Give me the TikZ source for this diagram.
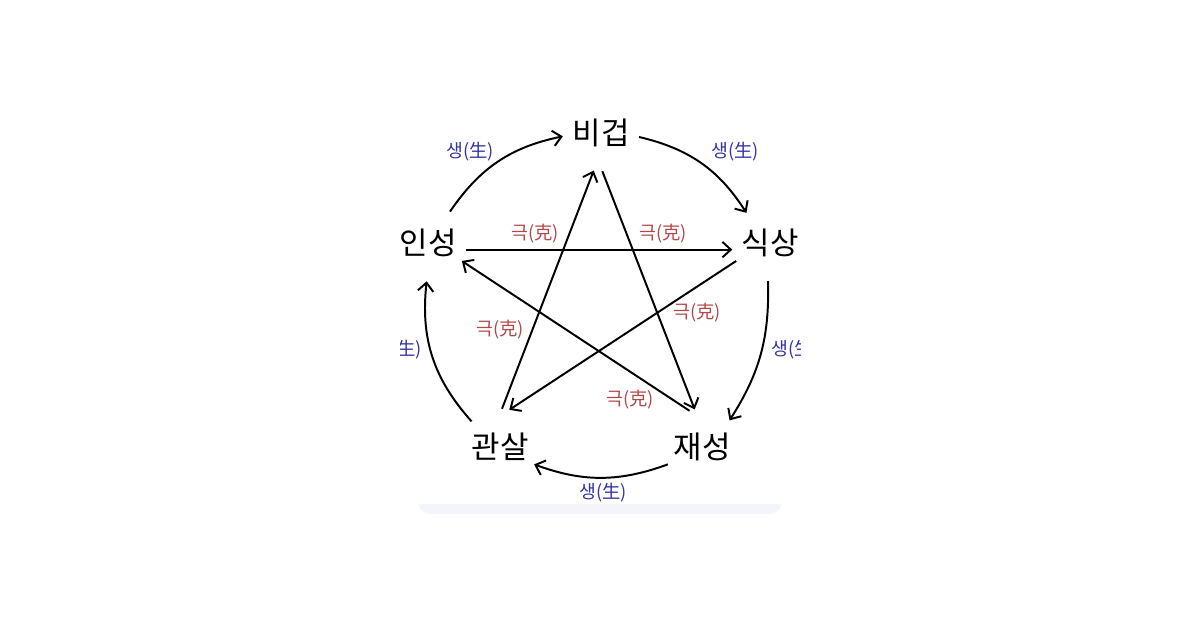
\documentclass[tikz,border=0pt]{standalone}
\usepackage{fontspec}
\setmainfont{Noto Sans CJK KR}
\usetikzlibrary{arrows.meta}
\definecolor{shengblue}{RGB}{52,52,168}
\definecolor{kered}{RGB}{180,72,72}
\definecolor{bandgray}{RGB}{243,245,250}

\begin{document}
\begin{tikzpicture}[x=0.025cm,y=0.025cm,
    elem/.style={circle, inner sep=0pt, minimum size=1.9cm, font=\fontsize{22pt}{26pt}\selectfont},
    shenglbl/.style={text=shengblue, font=\fontsize{13pt}{15pt}\selectfont},
    kelbl/.style={text=kered, font=\fontsize{13pt}{15pt}\selectfont},
    sheng/.style={line width=1.4pt, -{Straight Barb[length=6pt,width=11pt]}},
    ke/.style={line width=1.4pt, -{Straight Barb[length=6pt,width=11pt]}}]
                \useasboundingbox (0,0) rectangle (1200,630);

                \begin{scope}
                \clip (400,0) rectangle (800,630);

                % card edge
                \fill[bandgray, rounded corners=9pt] (418,116) rectangle (782,140);
                \fill[white] (400,126) rectangle (800,630);

                \coordinate (B) at (601,497);
                \coordinate (S) at (770,387);
                \coordinate (I) at (428,387);
                \coordinate (G) at (500,183);
                \coordinate (J) at (702,183);

                \node [elem] (bigeop) at (B) {비겁};
                \node [elem] (siksang) at (S) {식상};
                \node [elem] (inseong) at (I) {인성};
                \node [elem] (gwansal) at (G) {관살};
                \node [elem] (jaeseong) at (J) {재성};

                % ke
                \draw[ke] (inseong.-10) -- (siksang.190);
                \draw[ke] (bigeop.-88) -- (jaeseong.101);
                \draw[ke] (jaeseong.109) -- (inseong.-28);
                \draw[ke] (gwansal.87) -- (bigeop.-101);
                \draw[ke] (siksang.208) -- (gwansal.76);

                % sheng
                \draw[sheng] (inseong.55) to[bend left=22] (bigeop.185);
                \draw[sheng] (bigeop.-6) to[bend left=22] (siksang.128);
                \draw[sheng] (siksang.-93) to[bend left=17] (jaeseong.44);
                \draw[sheng] (jaeseong.207) to[bend left=20] (gwansal.-27);
                \draw[sheng] (gwansal.138) to[bend left=24] (inseong.-92);

                \node [shenglbl] (shengIB) at (470,478) {생(生)};
                \node [shenglbl] (shengBS) at (735,478) {생(生)};
                \node [shenglbl] (shengSJ) at (795,280) {생(生)};
                \node [shenglbl] (shengJG) at (603,137) {생(生)};
                \node [shenglbl] (shengGI) at (398,280) {생(生)};

                \node [kelbl] (keIS) at (535,396) {극(克)};
                \node [kelbl] (keBJ) at (663,396) {극(克)};
                \node [kelbl] (keSG) at (697,317) {극(克)};
                \node [kelbl] (keGB) at (500,300) {극(克)};
                \node [kelbl] (keJI) at (630,230) {극(克)};
                \end{scope}
\end{tikzpicture}
\end{document}
